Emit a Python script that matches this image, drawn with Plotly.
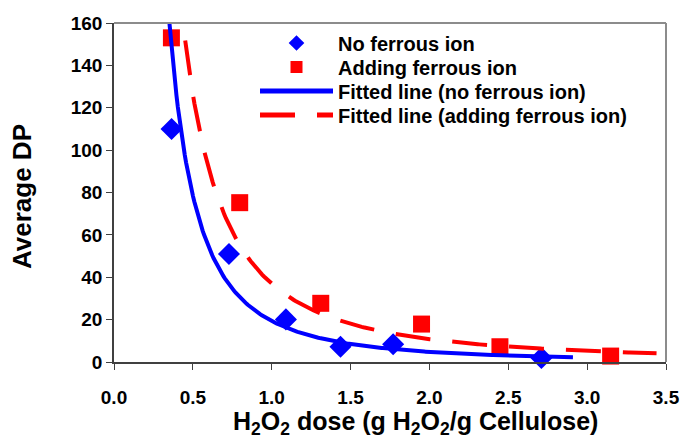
import numpy as np
import plotly.graph_objects as go

# ---- data ----
dose_no_fe = [0.365, 0.729, 1.09, 1.436, 1.77, 2.71]
dp_no_fe = [110, 51, 20.1, 7.2, 8.4, 1.9]

dose_fe = [0.364, 0.797, 1.311, 1.95, 2.447, 3.149]
dp_fe = [153, 75.2, 27.7, 17.9, 7.2, 2.8]

# extent of the fitted (power) trend lines
fit_range_no_fe = [0.30, 2.91]
fit_range_fe = [0.30, 3.44]

x_ticks = [0.0, 0.5, 1.0, 1.5, 2.0, 2.5, 3.0, 3.5]
y_ticks = [0, 20, 40, 60, 80, 100, 120, 140, 160]


def power_fit(x, y, xr):
    b, ln_a = np.polyfit(np.log(x), np.log(y), 1)
    xs = np.linspace(xr[0], xr[1], 300)
    return xs, np.exp(ln_a) * xs ** b


fx1, fy1 = power_fit(dose_no_fe, dp_no_fe, fit_range_no_fe)
fx2, fy2 = power_fit(dose_fe, dp_fe, fit_range_fe)

FAM = "Liberation Sans, Arial, sans-serif"
BLUE = "#0000ff"
RED = "#ff0000"


def bfont(size):
    return dict(family=FAM, size=size, color="black", weight="bold")


# plot area in pixels
L, R, T, B = 114, 666, 23, 362
PW, PH = R - L, B - T


def px_x(px):
    return (px - L) / PW


def px_y(py):
    return (B - py) / PH


fig = go.Figure()
fig.add_trace(go.Scatter(
    x=dose_no_fe, y=dp_no_fe, mode="markers", name="No ferrous ion",
    marker=dict(symbol="diamond", size=17, color=BLUE), cliponaxis=False,
    legend="legend"))
fig.add_trace(go.Scatter(
    x=dose_fe, y=dp_fe, mode="markers", name="Adding ferrous ion",
    marker=dict(symbol="square", size=17, color=RED), cliponaxis=False,
    legend="legend2"))
fig.add_trace(go.Scatter(
    x=fx1, y=fy1, mode="lines", name="Fitted line (no ferrous ion)",
    line=dict(color=BLUE, width=4), legend="legend3"))
fig.add_trace(go.Scatter(
    x=fx2, y=fy2, mode="lines", name="Fitted line (adding ferrous ion)",
    line=dict(color=RED, width=4, dash="35px,22px"), legend="legend4"))

axis_common = dict(
    showgrid=False, zeroline=False, showline=True, linecolor="#404040",
    linewidth=1.5, ticks="outside", ticklen=6, tickwidth=1.2,
    tickcolor="#404040", tickfont=bfont(19), automargin=False,
)

fig.update_xaxes(range=[0, 3.5], tickvals=x_ticks,
                 ticktext=[f"{v:.1f}" for v in x_ticks],
                 ticklabelstandoff=11, **axis_common)
fig.update_yaxes(range=[0, 160], tickvals=y_ticks,
                 ticktext=[str(v) for v in y_ticks], **axis_common)

# gray frame on top and right
fig.add_shape(type="line", xref="paper", yref="paper", x0=0, x1=1, y0=1, y1=1,
              line=dict(color="#8c8c8c", width=2))
fig.add_shape(type="line", xref="paper", yref="paper", x0=1, x1=1, y0=0, y1=1,
              line=dict(color="#8c8c8c", width=2))

fig.add_annotation(
    text="H<sub>2</sub>O<sub>2</sub> dose (g H<sub>2</sub>O<sub>2</sub>/g Cellulose)",
    xref="paper", yref="paper", x=px_x(415), y=px_y(423),
    xanchor="center", yanchor="middle", showarrow=False, font=bfont(25))
fig.add_annotation(
    text="Average DP", textangle=-90,
    xref="paper", yref="paper", x=px_x(22), y=px_y(197),
    xanchor="center", yanchor="middle", showarrow=False, font=bfont(26))

legend_rows = [43, 67, 91, 115]


def leg(py):
    return dict(
        x=px_x(255), y=px_y(py), xanchor="left", yanchor="middle",
        bgcolor="rgba(0,0,0,0)", borderwidth=0, itemwidth=73,
        itemsizing="constant", font=bfont(20), tracegroupgap=0)


fig.update_layout(
    width=681, height=440,
    margin=dict(l=L, r=681 - R, t=T, b=440 - B, autoexpand=False),
    paper_bgcolor="white", plot_bgcolor="white",
    font=dict(family=FAM, color="black"),
    showlegend=True,
    legend=leg(legend_rows[0]),
    legend2=leg(legend_rows[1]),
    legend3=leg(legend_rows[2]),
    legend4=leg(legend_rows[3]),
)

fig.write_html("out.html", config={"displayModeBar": False},
               post_script="document.body.style.margin='0';")
